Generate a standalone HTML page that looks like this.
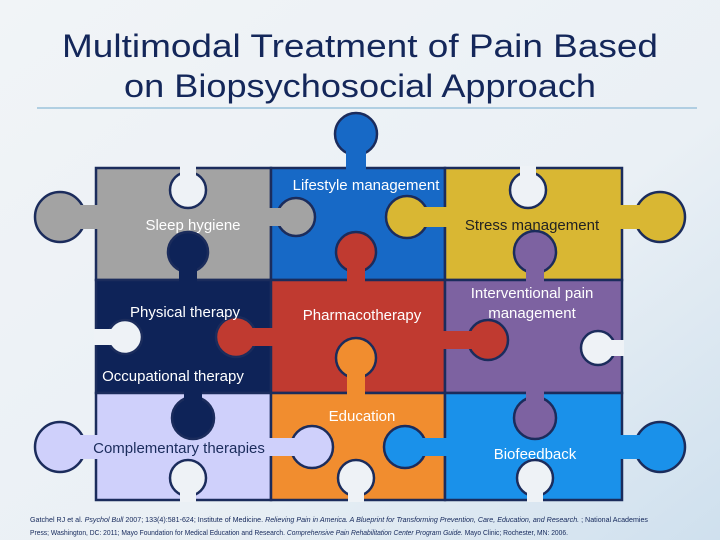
<!DOCTYPE html>
<html><head><meta charset="utf-8"><style>
html,body{margin:0;padding:0;width:720px;height:540px;overflow:hidden;background:#eef2f6}
svg{display:block}
text{font-family:"Liberation Sans",sans-serif}
</style></head><body>
<svg width="720" height="540" viewBox="0 0 720 540" xmlns="http://www.w3.org/2000/svg">
<defs>
<linearGradient id="bg" x1="0" y1="0" x2="1" y2="1">
<stop offset="0" stop-color="#f1f4f7"/><stop offset="0.6" stop-color="#eaf0f5"/><stop offset="1" stop-color="#cfe0ee"/>
</linearGradient>
</defs>
<rect width="720" height="540" fill="url(#bg)"/>
<text x="360" y="57" font-size="32" fill="#14275a" text-anchor="middle" textLength="596" lengthAdjust="spacingAndGlyphs">Multimodal Treatment of Pain Based</text>
<text x="360" y="97" font-size="32" fill="#14275a" text-anchor="middle" textLength="472" lengthAdjust="spacingAndGlyphs">on Biopsychosocial Approach</text>
<line x1="37" y1="108" x2="697" y2="108" stroke="#9cc3dc" stroke-width="1.5"/>

<g stroke="#1b2c5c" stroke-width="2.5">
<rect x="96" y="168" width="175" height="112" fill="#a3a3a3"/>
<rect x="271" y="168" width="174" height="112" fill="#1769c6"/>
<rect x="445" y="168" width="177" height="112" fill="#d9b733"/>
<rect x="96" y="280" width="175" height="113" fill="#0e2358"/>
<rect x="271" y="280" width="174" height="113" fill="#c03a30"/>
<rect x="445" y="280" width="177" height="113" fill="#7d62a1"/>
<rect x="96" y="393" width="175" height="107" fill="#cfd0fb"/>
<rect x="271" y="393" width="174" height="107" fill="#f18d2f"/>
<rect x="445" y="393" width="177" height="107" fill="#1a91ea"/>
<circle cx="60" cy="217" r="25" fill="#a3a3a3"/>
<circle cx="296" cy="217" r="19" fill="#a3a3a3"/>
<circle cx="356" cy="134" r="21" fill="#1769c6"/>
<circle cx="407" cy="217" r="21" fill="#d9b733"/>
<circle cx="660" cy="217" r="25" fill="#d9b733"/>
<circle cx="188" cy="252" r="20" fill="#0e2358"/>
<circle cx="356" cy="252" r="20" fill="#c03a30"/>
<circle cx="535" cy="252" r="21" fill="#7d62a1"/>
<circle cx="236" cy="337" r="20" fill="#c03a30"/>
<circle cx="488" cy="340" r="20" fill="#c03a30"/>
<circle cx="193" cy="418" r="21" fill="#0e2358"/>
<circle cx="356" cy="358" r="20" fill="#f18d2f"/>
<circle cx="535" cy="418" r="21" fill="#7d62a1"/>
<circle cx="60" cy="447" r="25" fill="#cfd0fb"/>
<circle cx="312" cy="447" r="21" fill="#cfd0fb"/>
<circle cx="405" cy="447" r="21" fill="#1a91ea"/>
<circle cx="660" cy="447" r="25" fill="#1a91ea"/>
<circle cx="188" cy="190" r="18" fill="#eef2f6"/>
<circle cx="528" cy="190" r="18" fill="#eef2f6"/>
<circle cx="125" cy="337" r="17" fill="#eef2f6"/>
<circle cx="598" cy="348" r="17" fill="#eef2f6"/>
<circle cx="188" cy="478" r="18" fill="#eef2f6"/>
<circle cx="356" cy="478" r="18" fill="#eef2f6"/>
<circle cx="535" cy="478" r="18" fill="#eef2f6"/>
</g>
<g stroke="none">
<rect x="78" y="205" width="20" height="24" fill="#a3a3a3"/>
<rect x="269" y="208" width="14" height="18" fill="#a3a3a3"/>
<rect x="346" y="150" width="20" height="20" fill="#1769c6"/>
<rect x="423" y="207" width="24" height="20" fill="#d9b733"/>
<rect x="620" y="205" width="20" height="24" fill="#d9b733"/>
<rect x="179" y="266" width="18" height="16" fill="#0e2358"/>
<rect x="347" y="266" width="18" height="16" fill="#c03a30"/>
<rect x="526" y="266" width="18" height="16" fill="#7d62a1"/>
<rect x="250" y="328" width="23" height="18" fill="#c03a30"/>
<rect x="443" y="331" width="30" height="18" fill="#c03a30"/>
<rect x="184" y="391" width="18" height="14" fill="#0e2358"/>
<rect x="347" y="372" width="18" height="23" fill="#f18d2f"/>
<rect x="526" y="391" width="18" height="14" fill="#7d62a1"/>
<rect x="78" y="435" width="20" height="24" fill="#cfd0fb"/>
<rect x="269" y="438" width="26" height="18" fill="#cfd0fb"/>
<rect x="422" y="438" width="25" height="18" fill="#1a91ea"/>
<rect x="620" y="435" width="20" height="24" fill="#1a91ea"/>
<rect x="180" y="166" width="16" height="12" fill="#eef2f6"/>
<rect x="520" y="166" width="16" height="12" fill="#eef2f6"/>
<rect x="94" y="329" width="18" height="16" fill="#eef2f6"/>
<rect x="608" y="340" width="16" height="16" fill="#eef2f6"/>
<rect x="180" y="490" width="16" height="12" fill="#eef2f6"/>
<rect x="348" y="490" width="16" height="12" fill="#eef2f6"/>
<rect x="527" y="490" width="16" height="12" fill="#eef2f6"/>
</g>
<g font-size="15" text-anchor="middle">
<text x="366" y="190" fill="#fff">Lifestyle management</text>
<text x="193" y="230" fill="#fff">Sleep hygiene</text>
<text x="532" y="230" fill="#222">Stress management</text>
<text x="185" y="317" fill="#fff">Physical therapy</text>
<text x="362" y="320" fill="#fff">Pharmacotherapy</text>
<text x="532" y="298" fill="#fff">Interventional pain</text>
<text x="532" y="318" fill="#fff">management</text>
<text x="173" y="381" fill="#fff">Occupational therapy</text>
<text x="362" y="421" fill="#fff">Education</text>
<text x="179" y="453" fill="#1b2c5c">Complementary therapies</text>
<text x="535" y="459" fill="#fff">Biofeedback</text>
</g>
<g font-size="7.5" fill="#14275a">
<text x="30" y="522" textLength="618" lengthAdjust="spacingAndGlyphs">Gatchel RJ et al. <tspan font-style="italic">Psychol Bull</tspan> 2007; 133(4):581-624; Institute of Medicine. <tspan font-style="italic">Relieving Pain in America. A Blueprint for Transforming Prevention, Care, Education, and Research.</tspan> ; National Academies</text>
<text x="30" y="535" textLength="538" lengthAdjust="spacingAndGlyphs">Press; Washington, DC: 2011; Mayo Foundation for Medical Education and Research. <tspan font-style="italic">Comprehensive Pain Rehabilitation Center Program Guide.</tspan> Mayo Clinic; Rochester, MN: 2006.</text>
</g>
</svg>
</body></html>
